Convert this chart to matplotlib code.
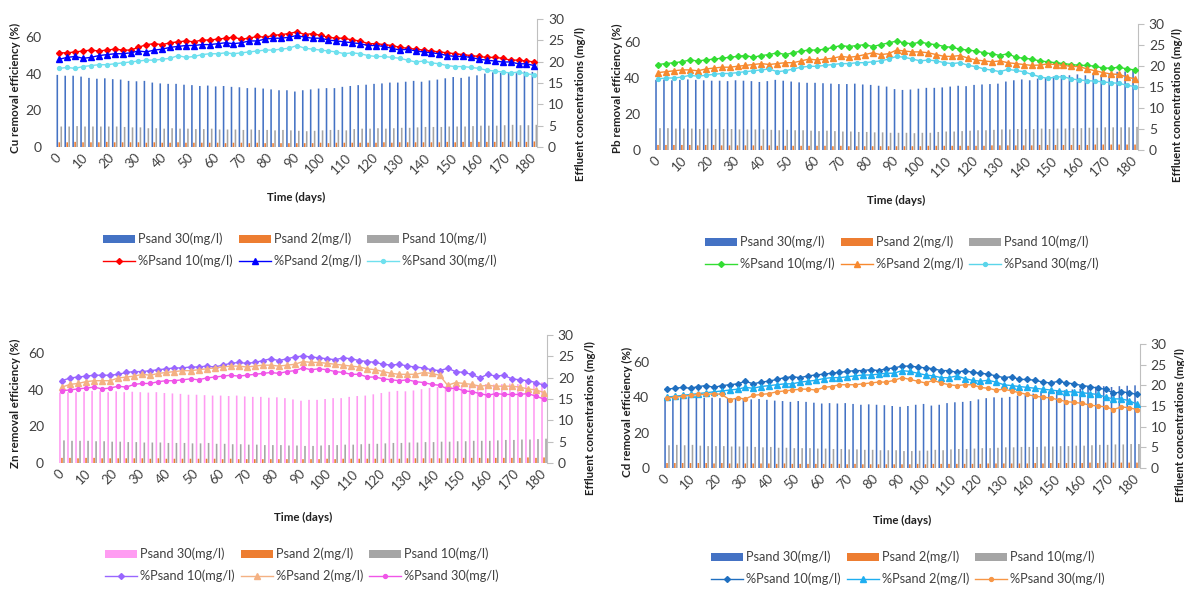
import numpy as np
import matplotlib.pyplot as plt

W, H = 1184, 589
plt.rcParams['font.family'] = ['Lato', 'DejaVu Sans']

# sampling days (every 3 days) and axis tick labels
days = np.arange(0, 181, 3)
day_ticks = np.arange(0, 181, 10)

bar_labels = ['Psand 30(mg/l)', 'Psand 2(mg/l)', 'Psand 10(mg/l)']
line_labels = ['%Psand 10(mg/l)', '%Psand 2(mg/l)', '%Psand 30(mg/l)']

# ---- Cu ----
cu_bar30 = [16.9, 16.7, 16.7, 16.5, 16.2, 16.0, 16.1, 15.9, 15.8, 15.5,
            15.4, 15.5, 15.1, 14.9, 14.8, 14.8, 14.6, 14.5, 14.3, 14.4,
            14.2, 14.3, 14.1, 14.0, 13.8, 13.9, 13.7, 13.5, 13.3, 13.3,
            13.0, 13.3, 13.5, 13.7, 13.8, 13.8, 14.1, 14.3, 14.5, 14.6,
            14.8, 14.9, 15.1, 15.1, 15.3, 15.5, 15.3, 15.6, 15.8, 16.1,
            16.4, 16.2, 16.5, 16.8, 17.2, 17.5, 17.4, 17.5, 17.3, 17.7,
            17.6]
cu_bar2 = [1.1, 1.1, 1.2, 1.1, 1.1, 1.1, 1.2, 1.1, 1.1, 1.1,
           1.1, 1.0, 1.1, 1.0, 1.0, 1.1, 1.0, 1.0, 1.0, 1.0,
           1.0, 0.9, 1.0, 1.0, 0.9, 1.0, 0.9, 0.9, 0.9, 0.9,
           0.9, 0.9, 0.9, 1.0, 0.9, 1.0, 1.0, 1.0, 1.0, 1.0,
           1.0, 1.1, 1.0, 1.1, 1.1, 1.1, 1.1, 1.1, 1.1, 1.2,
           1.1, 1.2, 1.2, 1.2, 1.2, 1.2, 1.2, 1.3, 1.2, 1.2,
           1.3]
cu_bar10 = [4.8, 4.8, 4.9, 4.8, 4.8, 4.8, 4.8, 4.8, 4.7, 4.6,
            4.6, 4.4, 4.4, 4.3, 4.4, 4.3, 4.3, 4.2, 4.2, 4.3,
            4.1, 4.1, 4.1, 4.0, 4.1, 4.0, 4.0, 3.9, 4.0, 3.9,
            3.8, 3.7, 3.8, 3.9, 4.0, 4.0, 3.9, 4.2, 4.3, 4.3,
            4.4, 4.3, 4.4, 4.5, 4.5, 4.6, 4.7, 4.7, 4.7, 4.8,
            4.8, 4.8, 4.9, 5.0, 5.0, 5.0, 5.1, 5.2, 5.1, 5.1,
            5.2]
cu_pct10 = [51.5, 51.5, 52, 52.5, 53, 52.5, 53, 53.5, 53, 53,
            54.5, 56, 56.5, 56, 57, 57.5, 58, 57.5, 58.5, 58.5,
            59, 59.5, 60, 59, 59.5, 60.5, 60, 61, 61.5, 62,
            63, 61.5, 62, 61, 60, 59.5, 59.5, 58.5, 58, 56.5,
            56.5, 56, 55.5, 54.5, 54, 53.5, 53, 52.5, 52, 51.5,
            51, 50.5, 50, 49.5, 49, 49, 48.5, 47.5, 47.5, 47,
            46.5]
cu_pct2 = [48, 49, 49.5, 48.5, 49, 50, 50.5, 51, 51, 51.5,
           52.5, 52, 53, 53.5, 54.5, 55, 55.5, 55.5, 56, 56,
           56.5, 57, 56.5, 57, 58, 58, 59, 59.5, 59.5, 60,
           61, 60, 59.5, 59.5, 58.5, 58, 57.5, 57, 56.5, 55.5,
           55.5, 55, 54, 53, 53.5, 52.5, 52, 51.5, 51, 50,
           49.5, 49.5, 49, 48, 47.5, 47, 46.5, 46.5, 45.5, 45.5,
           44.5]
cu_pct30 = [43, 43.5, 43, 44, 44.5, 45, 45, 45.5, 46, 46.5,
            47, 47.5, 47.5, 48, 48.5, 50, 49, 49.5, 50.5, 51,
            51, 51.5, 51, 51.5, 52, 52.5, 53, 53, 53.5, 54,
            55.5, 54, 53.5, 53, 52.5, 52, 51, 51.5, 51, 50,
            49.5, 49.5, 49, 48.5, 47.5, 46.5, 47, 46, 45.5, 44.5,
            44, 44, 43.5, 43, 42, 41.5, 41, 40.5, 41, 40,
            39.5]

# ---- Pb ----
pb_bar30 = [16.7, 16.8, 16.6, 16.7, 16.8, 16.7, 16.6, 16.5, 16.5, 16.4,
            16.6, 16.5, 16.4, 16.2, 16.4, 16.7, 16.5, 16.3, 16.1, 16.0,
            16.0, 15.9, 15.8, 15.7, 15.7, 15.8, 15.6, 15.5, 15.3, 15.1,
            14.5, 14.3, 14.4, 14.6, 14.8, 14.8, 14.9, 15.1, 15.3, 15.2,
            15.5, 15.6, 15.7, 15.8, 16.3, 16.6, 16.8, 16.6, 17.0, 17.2,
            17.5, 17.8, 17.8, 18.0, 17.8, 18.3, 17.9, 18.3, 18.6, 18.7,
            18.9]
pb_bar2 = [1.2, 1.2, 1.2, 1.2, 1.2, 1.1, 1.2, 1.2, 1.1, 1.1,
           1.1, 1.1, 1.1, 1.0, 1.1, 1.0, 1.0, 1.0, 1.0, 1.0,
           1.0, 1.0, 0.9, 1.0, 0.9, 0.9, 0.9, 0.9, 0.9, 0.9,
           0.9, 0.9, 0.9, 0.9, 1.0, 1.0, 1.0, 1.0, 1.0, 1.0,
           1.0, 1.0, 1.1, 1.1, 1.1, 1.1, 1.1, 1.1, 1.2, 1.2,
           1.2, 1.2, 1.2, 1.2, 1.2, 1.3, 1.3, 1.3, 1.3, 1.3,
           1.3]
pb_bar10 = [5.2, 5.2, 5.1, 5.1, 5.1, 5.0, 5.1, 5.0, 5.0, 5.0,
            4.9, 4.9, 4.9, 4.9, 4.8, 4.7, 4.8, 4.7, 4.7, 4.6,
            4.5, 4.6, 4.5, 4.4, 4.4, 4.3, 4.3, 4.2, 4.2, 4.1,
            4.1, 4.1, 4.0, 4.1, 4.1, 4.3, 4.4, 4.4, 4.5, 4.6,
            4.7, 4.7, 4.8, 4.9, 4.9, 5.0, 5.0, 5.0, 5.1, 5.0,
            5.1, 5.1, 5.2, 5.2, 5.3, 5.3, 5.4, 5.4, 5.4, 5.4,
            5.5]
pb_pct10 = [47.5, 48, 48.5, 49, 50, 49.5, 50, 50.5, 51, 51.5,
            52, 52.5, 51.5, 52.5, 53, 54, 53, 54, 55, 55.5,
            55.5, 56, 57, 58, 57.5, 58, 58.5, 57.5, 58.5, 59.5,
            60.5, 59.5, 59, 60, 59, 58.5, 57.5, 57, 56, 55.5,
            55, 54, 53.5, 52.5, 53.5, 51.5, 51, 50.5, 49.5, 49,
            48.5, 48, 47.5, 47, 47, 46.5, 45.5, 45.5, 46, 45,
            44.5]
pb_pct2 = [43, 43.5, 44, 44.5, 44.5, 44, 45, 45.5, 46, 46,
           46.5, 47, 47.5, 48, 47.5, 48, 48.5, 48.5, 49.5, 50.5,
           50, 50.5, 51, 52, 51.5, 52, 53, 54, 53, 53.5,
           55.5, 55, 54.5, 54.5, 54, 53, 52, 52, 52.5, 51,
           50, 49.5, 49, 49.5, 48.5, 48, 47.5, 47, 47.2, 47.8,
           47.5, 47, 46.5, 46.3, 45, 44, 43, 42.2, 42, 40.5,
           39.5]
pb_pct30 = [39.5, 40, 40, 40.5, 41.5, 41, 41.5, 42, 42.5, 42.5,
            43, 43.5, 44, 44.5, 45, 43.5, 44, 45, 46, 46.5,
            46.5, 47, 47.5, 48, 48, 48.5, 48.5, 49, 49.5, 50.5,
            52, 51.5, 50.5, 49.5, 50, 49.5, 48.5, 48, 48.5, 47,
            46.3, 45, 44.4, 43.5, 44.8, 44.2, 43.5, 42, 40.7, 39.8,
            40.5, 40.7, 39.5, 38.9, 38.5, 38.3, 37.8, 37.4, 37, 36,
            35.2]

# ---- Zn ----
zn_bar30 = [16.5, 16.6, 16.6, 16.7, 16.9, 16.8, 16.6, 16.8, 16.6, 16.7,
            16.6, 16.5, 16.6, 16.4, 16.3, 16.2, 16.0, 16.0, 15.9, 15.8,
            15.8, 15.7, 15.8, 15.6, 15.5, 15.5, 15.3, 15.4, 15.2, 14.9,
            14.6, 14.8, 14.8, 15.0, 15.2, 15.2, 15.5, 15.7, 15.8, 16.1,
            16.4, 16.7, 16.9, 16.8, 17.0, 17.3, 17.6, 17.8, 17.9, 18.1,
            18.2, 18.3, 18.3, 18.5, 18.4, 18.5, 18.6, 18.5, 18.7, 18.8,
            18.9]
zn_bar2 = [1.2, 1.2, 1.1, 1.2, 1.2, 1.1, 1.1, 1.1, 1.1, 1.1,
           1.1, 1.0, 1.1, 1.0, 1.0, 1.0, 1.0, 1.0, 1.0, 1.0,
           0.9, 1.0, 0.9, 0.9, 0.9, 0.9, 0.9, 0.9, 0.9, 0.9,
           0.9, 0.9, 0.9, 1.0, 0.9, 1.0, 1.0, 1.0, 1.0, 1.0,
           1.0, 1.0, 1.0, 1.1, 1.1, 1.1, 1.1, 1.1, 1.1, 1.1,
           1.2, 1.2, 1.2, 1.1, 1.2, 1.2, 1.2, 1.2, 1.3, 1.2,
           1.3]
zn_bar10 = [5.3, 5.2, 5.2, 5.2, 5.1, 5.1, 5.0, 5.0, 4.9, 4.9,
            4.8, 4.8, 4.8, 4.7, 4.7, 4.7, 4.6, 4.6, 4.7, 4.5,
            4.5, 4.4, 4.4, 4.3, 4.3, 4.2, 4.2, 4.2, 4.1, 4.1,
            4.0, 4.0, 4.1, 4.2, 4.2, 4.3, 4.3, 4.4, 4.5, 4.5,
            4.6, 4.7, 4.7, 4.8, 4.8, 4.9, 4.9, 5.0, 5.0, 5.1,
            5.1, 5.2, 5.2, 5.2, 5.3, 5.4, 5.4, 5.5, 5.5, 5.6,
            5.7]
zn_pct10 = [45, 46.5, 47, 47.5, 48, 48, 48, 48.5, 49.5, 50,
            50, 50.5, 51, 51.5, 52, 52, 52.5, 52.5, 53, 52.5,
            53.5, 54.5, 55, 54.5, 55, 56, 57, 56, 57, 58,
            58.5, 58, 57.5, 57, 56.5, 57.5, 57, 56, 55.5, 55,
            54, 53.5, 54, 53, 52.5, 52, 51, 50.5, 51.8, 50,
            49.5, 48.5, 46.5, 48.5, 47.5, 48, 46, 45.5, 45, 44,
            42.5]
zn_pct2 = [41.5, 43, 43.5, 44.5, 45, 45, 45, 46.5, 47, 47.5,
           48.5, 48, 49, 49.5, 50, 50.5, 50.5, 51, 51.5, 52,
           52.5, 53, 53, 52.5, 53, 53.5, 53.5, 53, 53.5, 54,
           55.5, 55, 55, 54.5, 54, 53.5, 53, 52.5, 51.5, 51,
           50, 49, 48.5, 48.5, 48.5, 49.5, 49, 48, 42.5, 44,
           43.5, 43, 42, 42.5, 42, 42, 42, 41.5, 40.5, 40,
           38.5]
zn_pct30 = [39.5, 40, 40.5, 41, 41.5, 40.5, 41, 42, 41.5, 43,
            43.5, 43.5, 44.5, 45, 45, 45.5, 46, 45.5, 46.5, 47,
            47.5, 48, 47.5, 48, 48.5, 49, 49.5, 49, 50, 50.5,
            52, 51, 51.5, 51, 50, 49.5, 48.5, 48.5, 47, 47,
            46, 45.5, 45, 45.5, 44.5, 44, 43, 42.5, 40.5, 41,
            39.5, 39, 38, 37, 38, 37.5, 37.5, 37.5, 38, 36.5,
            35]

# ---- Cd ----
cd_bar30 = [17.0, 17.1, 17.0, 17.2, 17.3, 17.0, 17.0, 16.9, 16.8, 16.9,
            16.7, 16.6, 16.7, 16.5, 16.3, 16.2, 16.0, 16.2, 16.0, 15.8,
            15.6, 15.7, 15.6, 15.7, 15.5, 15.3, 15.4, 15.3, 15.2, 15.0,
            14.8, 15.0, 15.3, 15.5, 15.1, 15.3, 15.7, 15.9, 16.0, 16.2,
            16.6, 16.9, 17.1, 17.0, 17.2, 17.5, 17.8, 18.0, 18.2, 18.5,
            18.6, 18.8, 19.0, 19.2, 19.3, 19.7, 19.8, 19.6, 19.8, 19.9,
            20.0]
cd_bar2 = [1.2, 1.2, 1.2, 1.2, 1.2, 1.2, 1.1, 1.2, 1.1, 1.1,
           1.1, 1.1, 1.1, 1.1, 1.0, 1.1, 1.0, 1.0, 1.0, 1.0,
           1.0, 1.0, 1.0, 0.9, 1.0, 0.9, 0.9, 0.9, 0.9, 0.9,
           0.9, 0.9, 1.0, 0.9, 1.0, 1.0, 1.0, 1.0, 1.0, 1.0,
           1.0, 1.1, 1.1, 1.1, 1.1, 1.1, 1.1, 1.2, 1.1, 1.2,
           1.2, 1.2, 1.2, 1.2, 1.3, 1.2, 1.3, 1.3, 1.3, 1.3,
           1.3]
cd_bar10 = [5.5, 5.6, 5.5, 5.6, 5.4, 5.3, 5.3, 5.3, 5.2, 5.2,
            5.2, 5.1, 5.0, 5.1, 4.9, 4.9, 4.8, 4.8, 4.8, 4.7,
            4.7, 4.6, 4.6, 4.5, 4.5, 4.4, 4.4, 4.3, 4.3, 4.3,
            4.1, 4.1, 4.2, 4.2, 4.4, 4.3, 4.5, 4.6, 4.6, 4.7,
            4.8, 4.8, 4.9, 5.0, 5.0, 5.1, 5.1, 5.1, 5.2, 5.2,
            5.3, 5.3, 5.4, 5.4, 5.5, 5.6, 5.6, 5.7, 5.7, 5.8,
            5.8]
cd_pct10 = [44.5, 45, 45.5, 45, 46, 46.5, 45.5, 46.5, 47, 47.5,
            49, 47.5, 48.5, 49, 50, 51, 51.5, 51, 52, 52.5,
            53, 53.5, 54, 54.5, 55, 55, 55.5, 55, 56, 56.5,
            57.5, 57.5, 57, 56.5, 56, 55, 55, 54, 55, 54,
            53.5, 53, 52, 51, 51.5, 50, 50, 49.5, 48.5, 48,
            49, 48, 47.5, 46.5, 46, 45, 44.5, 42.2, 43, 42.5,
            41.5]
cd_pct2 = [40, 40.5, 41, 41.5, 42, 42.5, 43, 43.5, 44, 44.5,
           45.5, 45, 46, 46.5, 47, 47.5, 47.5, 48.5, 49, 49.5,
           50.5, 51, 51, 51.5, 52, 52.5, 52.5, 53, 53.5, 53.5,
           55, 54.5, 53.5, 52.5, 52, 51, 51, 52, 50.5, 49.5,
           49, 49.5, 48.5, 47, 46.5, 46, 45.5, 45, 44.5, 44,
           43.5, 43, 43, 42.5, 42, 41.5, 40, 39, 39, 38,
           36]
cd_pct30 = [39.5, 40, 40.5, 41, 41.5, 41.5, 42, 41.5, 38.5, 39.5,
            39, 41, 41.5, 42, 43, 43.5, 44, 44.5, 44.5, 44,
            45.5, 46, 47, 47, 47, 47.5, 48, 48.5, 48.5, 49.5,
            51, 50, 49, 48, 49.5, 48, 47, 46.5, 47, 47,
            45.5, 45, 44, 44.5, 43.5, 42.5, 41.5, 40.5, 40, 39.5,
            38.5, 37.5, 37, 36.5, 35.5, 35, 34.5, 33, 34.5, 34,
            33]

fig = plt.figure(figsize=(W / 100, H / 100), dpi=100)


def fig_text(x, y, s, **kw):
    fig.text(x / W, 1 - y / H, s, ha='center', va='center', **kw)


def draw_panel(box, metal, bars, lines, bar_colors, line_colors,
               ylab_xy, rlab_xy, time_xy, leg_xy):
    l, r, t, b = box
    ax = fig.add_axes([l / W, 1 - b / H, (r - l) / W, (b - t) / H])
    ax2 = ax.twinx()
    ax.set_zorder(ax2.get_zorder() + 1)
    ax.patch.set_visible(False)

    handles = []
    for off, vals, col, lab in zip([-0.75, 0, 0.75], bars, bar_colors, bar_labels):
        bc = ax2.bar(days + off, vals, width=0.6, color=col,
                     linewidth=0, label=lab)
        for p in bc:
            p.set_snap(False)
        handles.append(bc)
    markers = [('D', 3.0), ('^', 4.0), ('o', 2.8)]
    for vals, col, (m, ms), lab in zip(lines, line_colors, markers, line_labels):
        ln, = ax.plot(days, vals, color=col, marker=m, ms=ms, lw=1.0, label=lab)
        handles.append(ln)

    ax.set_xlim(-2, 181)
    ax.set_ylim(0, 70)
    ax2.set_ylim(0, 30)
    ax.set_yticks([0, 20, 40, 60])
    ax2.set_yticks(range(0, 31, 5))
    ax.set_xticks(day_ticks)
    ax.set_xticklabels(day_ticks, rotation=45, ha='right', va='center',
                       rotation_mode='anchor')
    for s in list(ax.spines.values()) + list(ax2.spines.values()):
        s.set_visible(False)
    ax2.spines['right'].set_visible(True)
    ax2.spines['right'].set_color('#BFBFBF')
    ax.tick_params(axis='y', length=0, labelsize=10, labelcolor='#404040', pad=9)
    ax.tick_params(axis='x', length=0, labelsize=9.5, labelcolor='#404040', pad=6)
    ax2.tick_params(axis='y', length=4, color='#BFBFBF', labelsize=10,
                    labelcolor='#404040', pad=4)

    fig_text(*ylab_xy, f'{metal} removal efficiency (%)', rotation=90,
             fontsize=8.3, fontweight='bold', color='#202020')
    fig_text(*rlab_xy, 'Effluent concentrations (mg/l)', rotation=90,
             fontsize=8.3, fontweight='bold', color='#202020')
    fig_text(*time_xy, 'Time (days)', fontsize=8.3, fontweight='bold', color='#202020')

    order = [handles[0], handles[3], handles[1], handles[4], handles[2], handles[5]]
    fig.legend(order, [h.get_label() for h in order], loc='center',
               bbox_to_anchor=(leg_xy[0] / W, 1 - leg_xy[1] / H), ncol=3,
               frameon=False, fontsize=9.2, handlelength=2.5, handleheight=0.55,
               handletextpad=0.25, columnspacing=0.45, labelspacing=0.75,
               labelcolor='#404040')


blue, orange, grey = '#4472C4', '#ED7D31', '#A5A5A5'

draw_panel((54, 537, 19, 147), 'Cu', (cu_bar30, cu_bar2, cu_bar10),
           (cu_pct10, cu_pct2, cu_pct30), (blue, orange, grey),
           ('#FF0000', '#0000FF', '#6FE0EE'),
           (15, 88), (580, 104), (296, 197), (300, 250))
draw_panel((652.7, 1137.7, 24, 150), 'Pb', (pb_bar30, pb_bar2, pb_bar10),
           (pb_pct10, pb_pct2, pb_pct30), (blue, orange, grey),
           ('#33DD33', '#F7892F', '#5BD5EA'),
           (617, 88), (1177, 105), (896, 200), (902, 253))
draw_panel((56.6, 546.7, 335, 463), 'Zn', (zn_bar30, zn_bar2, zn_bar10),
           (zn_pct10, zn_pct2, zn_pct30), ('#FF9CF2', orange, grey),
           ('#9966FF', '#F4B183', '#F055E8'),
           (15, 403), (590, 418), (303, 517), (302, 565))
draw_panel((661.8, 1139.6, 344, 468), 'Cd', (cd_bar30, cd_bar2, cd_bar10),
           (cd_pct10, cd_pct2, cd_pct30), (blue, orange, grey),
           ('#1F6FC0', '#1EAEF0', '#F79646'),
           (627, 412), (1180, 425), (902, 520), (908, 568))

fig.savefig('out.png', dpi=100)
